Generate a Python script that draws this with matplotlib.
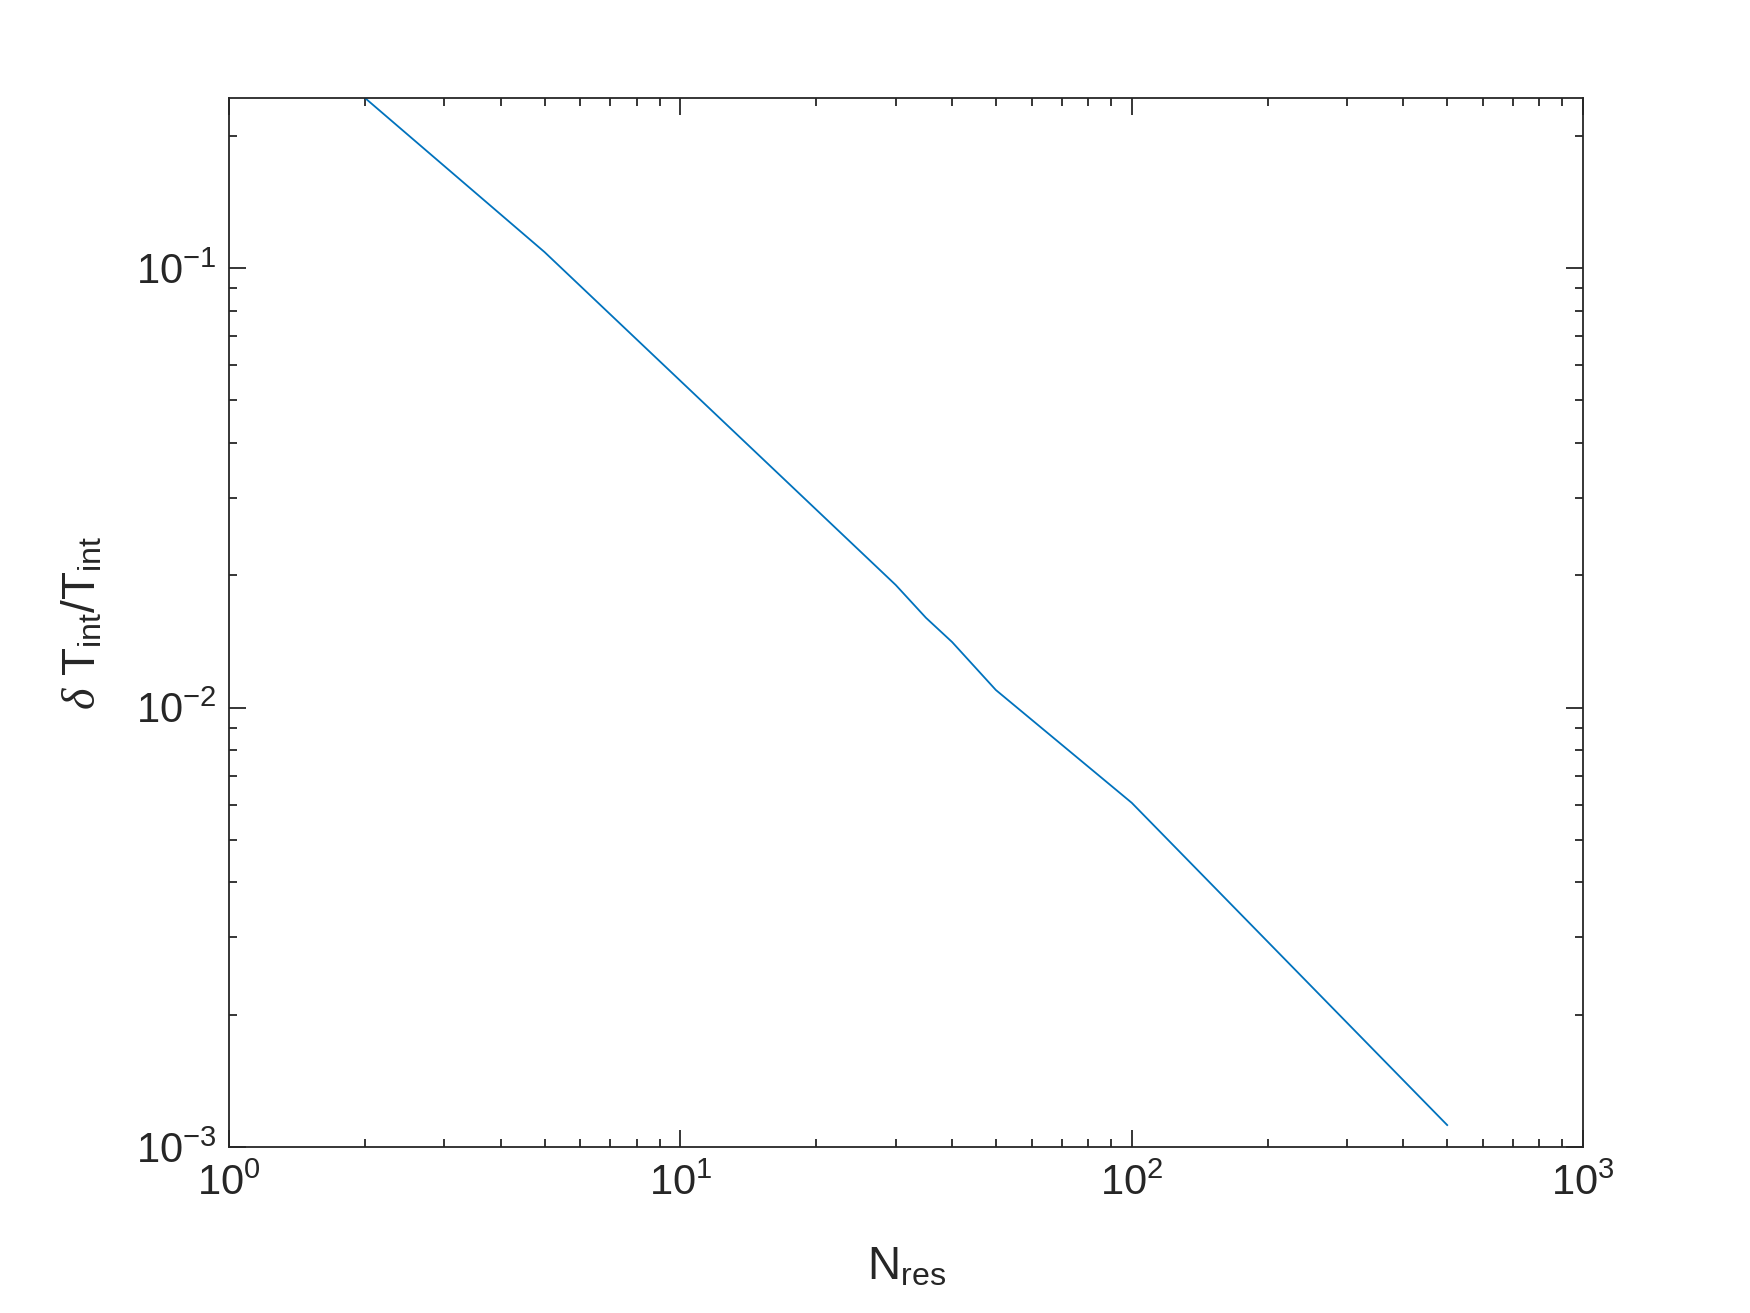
import matplotlib
matplotlib.use("Agg")
import matplotlib.pyplot as plt
from matplotlib.ticker import LogLocator, LogFormatterSciNotation, NullFormatter

# Data
N_res = [2, 5, 30, 35, 40, 50, 100, 500]
dT_rel = [0.2437, 0.1087, 0.0190, 0.0160, 0.01409, 0.01096, 0.00607, 0.001122]

plt.rcParams['font.family'] = ['Liberation Sans', 'DejaVu Sans']
plt.rcParams['mathtext.fontset'] = 'custom'
plt.rcParams['mathtext.rm'] = 'Liberation Sans'
plt.rcParams['mathtext.it'] = 'Liberation Serif:italic'
plt.rcParams['mathtext.bf'] = 'Liberation Sans:bold'
plt.rcParams['axes.unicode_minus'] = False

fig = plt.figure(figsize=(17.5, 13.13), dpi=100)
ax = fig.add_axes([0.1309, 0.1264, 0.7737, 0.7990])

ax.plot(N_res, dT_rel, color='#0072BD', lw=1.3)
ax.set_xscale('log')
ax.set_yscale('log')
ax.set_xlim(1, 1000)
ax.set_ylim(1e-3, dT_rel[0])

axcol = '#262626'
for s in ax.spines.values():
    s.set_color(axcol)
    s.set_linewidth(1.3)

ax.xaxis.set_major_locator(LogLocator(base=10, numticks=10))
ax.yaxis.set_major_locator(LogLocator(base=10, numticks=10))
ax.xaxis.set_minor_locator(LogLocator(base=10, subs=range(2, 10), numticks=20))
ax.yaxis.set_minor_locator(LogLocator(base=10, subs=range(2, 10), numticks=20))
ax.xaxis.set_major_formatter(LogFormatterSciNotation())
ax.yaxis.set_major_formatter(LogFormatterSciNotation())
ax.xaxis.set_minor_formatter(NullFormatter())
ax.yaxis.set_minor_formatter(NullFormatter())

ax.tick_params(which='both', direction='in', top=True, right=True, colors=axcol,
               labelcolor=axcol, width=1.3)
ax.tick_params(which='major', length=12, labelsize=30, pad=9)
ax.tick_params(axis='x', which='major', pad=12)
ax.tick_params(which='minor', length=6)

ax.set_xlabel(r'N$_{\mathrm{res}}$', fontsize=33, color=axcol, labelpad=30)
ax.set_ylabel(r'$\delta$ T$_{\mathrm{int}}$/T$_{\mathrm{int}}$', fontsize=33, color=axcol, labelpad=22)

fig.savefig('out.png', dpi=100, facecolor='white')
